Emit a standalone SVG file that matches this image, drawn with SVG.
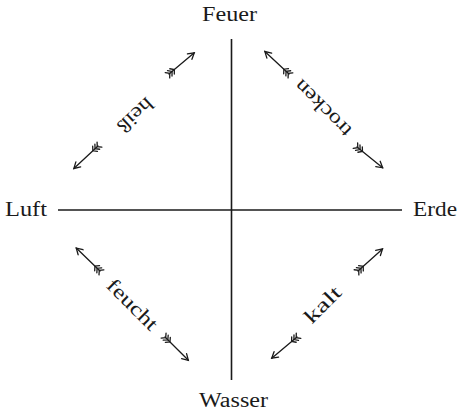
<svg xmlns="http://www.w3.org/2000/svg" xmlns:xlink="http://www.w3.org/1999/xlink" width="459" height="412" viewBox="0 0 459 412">
<style>
.lbl{font-family:"Liberation Serif","DejaVu Serif",serif;font-size:20px;fill:#1a1a1a}
.ax{stroke:#1a1a1a;stroke-width:1.6;fill:none}
.arr{stroke:#1a1a1a;stroke-width:1.3;fill:none;stroke-linecap:round}
</style>
<defs>
<g id="arrow" class="arr">
<line x1="0" y1="0" x2="33" y2="0"/>
<polyline points="27,-3.5 33,0 27,3.5"/>
<polyline points="-2,-3.5 1,0 -2,3.5"/>
<polyline points="1,-3.5 4,0 1,3.5"/>
<polyline points="4,-3.5 7,0 4,3.5"/>
</g>
</defs>
<rect width="459" height="412" fill="#fff"/>
<g id="connectors">
<line class="ax" x1="231.5" y1="39" x2="231.5" y2="380"/>
<line class="ax" x1="58" y1="210" x2="402" y2="210"/>
<use xlink:href="#arrow" transform="translate(169,74) rotate(-40)"/>
<use xlink:href="#arrow" transform="translate(98,146) rotate(137)"/>
<use xlink:href="#arrow" transform="translate(289,74) rotate(-137)"/>
<use xlink:href="#arrow" transform="translate(357,147) rotate(39)"/>
<use xlink:href="#arrow" transform="translate(100,271) rotate(-136)"/>
<use xlink:href="#arrow" transform="translate(165,337) rotate(45)"/>
<use xlink:href="#arrow" transform="translate(358,271) rotate(-42)"/>
<use xlink:href="#arrow" transform="translate(297,337) rotate(140)"/>
</g>
<g id="feuer"><text class="lbl" x="202" y="21" textLength="55" lengthAdjust="spacingAndGlyphs">Feuer</text></g>
<g id="luft"><text class="lbl" x="5" y="216" textLength="42" lengthAdjust="spacingAndGlyphs">Luft</text></g>
<g id="erde"><text class="lbl" x="413" y="216" textLength="44" lengthAdjust="spacingAndGlyphs">Erde</text></g>
<g id="wasser"><text class="lbl" x="199" y="407" textLength="69" lengthAdjust="spacingAndGlyphs">Wasser</text></g>
<g id="heiss"><text class="lbl" transform="translate(135,115) rotate(137)" x="-21" y="6" textLength="42" lengthAdjust="spacingAndGlyphs">heiß</text></g>
<g id="trocken"><text class="lbl" transform="translate(323,108) rotate(225)" x="-36" y="6" textLength="72" lengthAdjust="spacingAndGlyphs">trocken</text></g>
<g id="feucht"><text class="lbl" transform="translate(132,305) rotate(45)" x="-32" y="6" textLength="64" lengthAdjust="spacingAndGlyphs">feucht</text></g>
<g id="kalt"><text class="lbl" transform="translate(323,305) rotate(-45)" x="-22" y="6" textLength="44" lengthAdjust="spacingAndGlyphs">kalt</text></g>
</svg>
